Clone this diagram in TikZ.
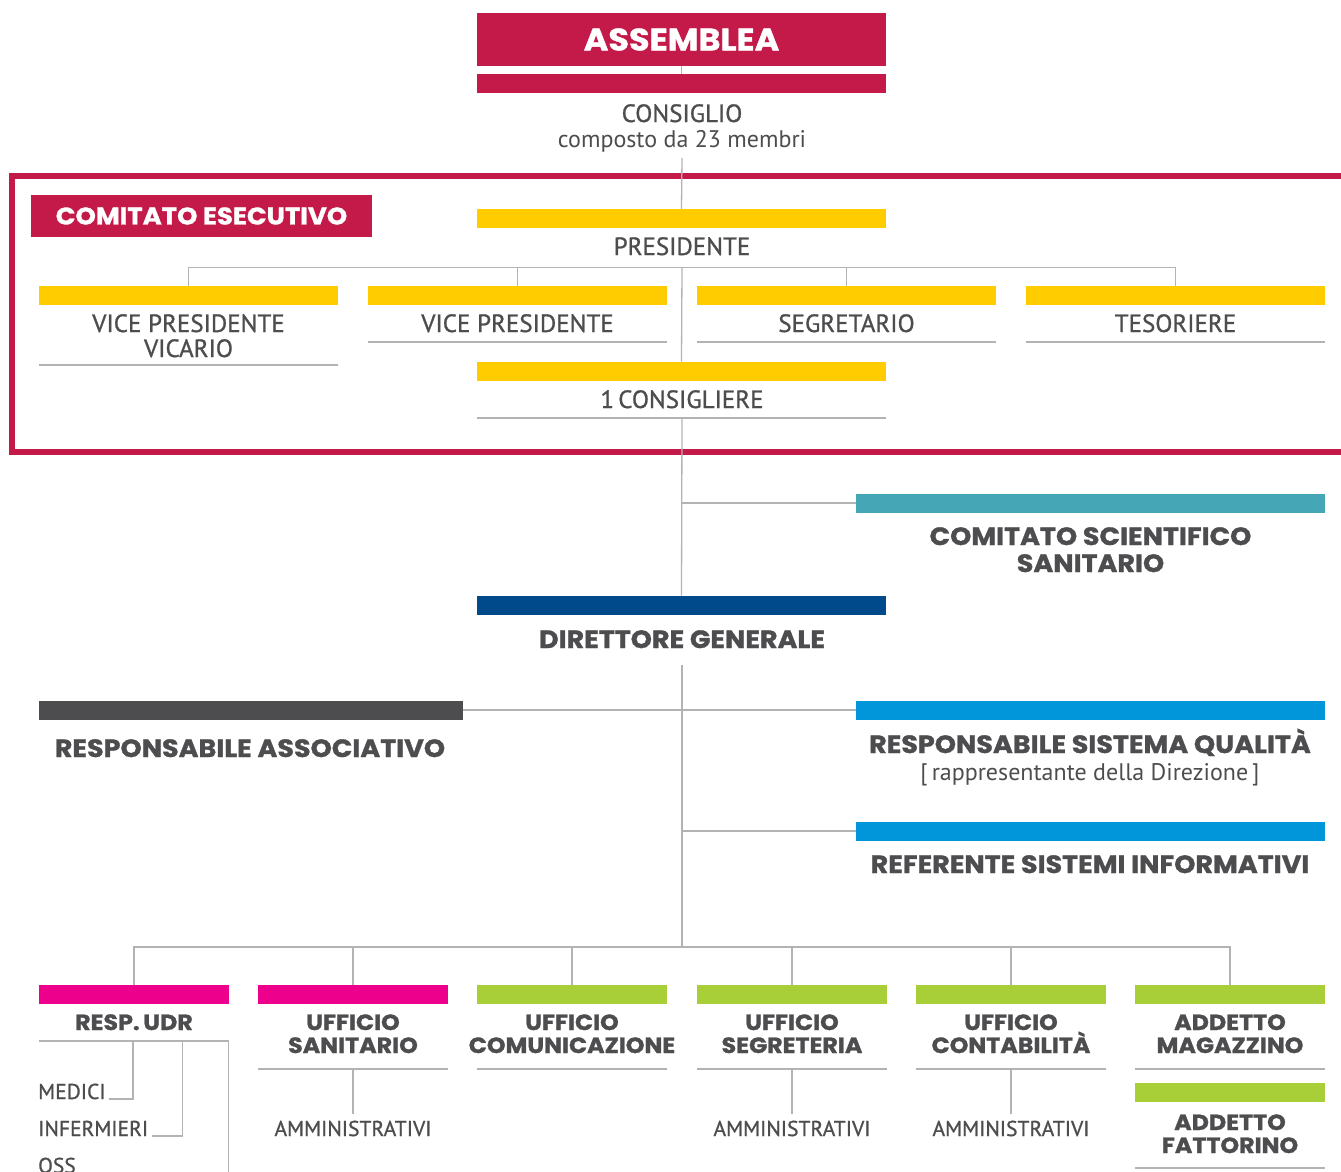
\documentclass[tikz,border=0pt]{standalone}
\usepackage{fontspec}
\setmainfont{PT Sans}
\newfontfamily\medfont{PT Sans}[FakeBold=1.0]
\newfontfamily\headfont{Poppins}[FakeStretch=1.08, FakeBold=1.2]
\definecolor{crim}{HTML}{C41A4A}
\definecolor{yel}{HTML}{FFCC00}
\definecolor{teal}{HTML}{45A7B5}
\definecolor{navy}{HTML}{004A8B}
\definecolor{dgray}{HTML}{4D4D4F}
\definecolor{sky}{HTML}{0096D9}
\definecolor{mag}{HTML}{EC008C}
\definecolor{grn}{HTML}{A8CF38}
\definecolor{txt}{HTML}{4D4D4F}
\definecolor{lin}{HTML}{B3B3B3}
\tikzset{
  bar/.style={inner sep=0, outer sep=0, minimum height=19, draw=none},
  lbl/.style={text=txt, font=\medfont\fontsize{25}{25}\selectfont, align=center, inner sep=0, anchor=base},
  small/.style={text=txt, font=\medfont\fontsize{21.5}{22}\selectfont, inner sep=0, anchor=base},
  hd/.style={text=txt, font=\headfont\bfseries\fontsize{25}{27}\selectfont, align=center, inner sep=0, anchor=base},
  hdb/.style={text=txt, font=\headfont\bfseries\fontsize{22}{23}\selectfont, align=center, inner sep=0, anchor=base},
  conn/.style={draw=lin, line width=1.3},
}
\begin{document}
\begin{tikzpicture}[x=1pt,y=-1pt]
\useasboundingbox (0,0) rectangle (1341,1171);
% ---------- top ----------
\node[bar, fill=crim, minimum width=409, minimum height=53, text=white,
      font=\headfont\bfseries\fontsize{31}{31}\selectfont] (assem) at (681.5,39.5) {ASSEMBLEA};
\node[bar, fill=crim, minimum width=409] (consbar) at (681.5,83.5) {};
\node[lbl] (cons) at (682,147) {CONSIGLIO\\{\normalfont\fontsize{24}{26}\selectfont composto da 23 membri}};
\coordinate (consend) at (682,158);
\draw[conn] (assem.south) -- (consbar.north);
% ---------- comitato esecutivo frame ----------
\draw[crim, line width=6] (1400,175.5) -- (12,175.5) -- (12,452) -- (1400,452);
\node[bar, fill=crim, minimum width=341, minimum height=42, text=white,
      font=\headfont\bfseries\fontsize{24}{24}\selectfont] (cetitle) at (201.5,216) {COMITATO ESECUTIVO};
\node[bar, fill=yel, minimum width=409] (presbar) at (681.5,218.5) {};
\node[lbl] (pres) at (682,255) {PRESIDENTE};
\draw[conn] (consend) -- (presbar.north);
\coordinate (hj) at (682,267.3);
\node[bar, fill=yel, minimum width=299] (vpvbar) at (188.5,295.5) {};
\node[bar, fill=yel, minimum width=299] (vpbar) at (517.5,295.5) {};
\node[bar, fill=yel, minimum width=299] (segbar) at (846.5,295.5) {};
\node[bar, fill=yel, minimum width=299] (tesbar) at (1175.5,295.5) {};
\draw[conn] (vpvbar.north) |- (hj) -| (tesbar.north);
\draw[conn] (vpbar.north) -- (vpbar.north |- hj);
\draw[conn] (segbar.north) -- (segbar.north |- hj);
\node[lbl] (vpv) at (188.5,357) {VICE PRESIDENTE\\VICARIO};
\node[lbl] (vp) at (517.5,332) {VICE PRESIDENTE};
\node[lbl] (seg) at (846.5,332) {SEGRETARIO};
\node[lbl] (tes) at (1175.5,332) {TESORIERE};
\draw[conn] (39,365) -- (338,365);
\draw[conn] (368,342) -- (667,342);
\draw[conn] (697,342) -- (996,342);
\draw[conn] (1026,342) -- (1325,342);
\node[bar, fill=yel, minimum width=409] (c1bar) at (681.5,371) {};
\draw[conn] (hj) -- (c1bar.north);
\node[lbl] (c1) at (682,408) {1\,CONSIGLIERE};
\draw[conn] (477,418) -- (886,418);
\coordinate (c1end) at (682,418);
% ---------- middle ----------
\node[bar, fill=teal, minimum width=469] (csbar) at (1090.5,503) {};
\node[hd] (cs) at (1090.5,572) {COMITATO SCIENTIFICO\\SANITARIO};
\node[bar, fill=navy, minimum width=409] (dirbar) at (681.5,605) {};
\draw[conn] (c1end) -- (dirbar.north);
\draw[conn] (dirbar.north |- csbar.west) -- (csbar.west);
\node[hd] (dir) at (682,648) {DIRETTORE GENERALE};
\coordinate (dirend) at (682,665);
\coordinate (bj) at (682,947);
\draw[conn] (dirend) -- (bj);
\node[bar, fill=dgray, minimum width=424] (asbar) at (251,710) {};
\node[bar, fill=sky, minimum width=469] (qbar) at (1090.5,710) {};
\draw[conn] (asbar.east) -- (qbar.west);
\node[hd] (as) at (250,757) {RESPONSABILE ASSOCIATIVO};
\node[hd] (q) at (1090,753) {RESPONSABILE SISTEMA QUALITÀ};
\node[lbl, font=\fontsize{24}{24}\selectfont] (qr) at (1090,780) {[\,rappresentante della Direzione\,]};
\node[bar, fill=sky, minimum width=469] (rbar) at (1090.5,831) {};
\draw[conn] (rbar.west -| bj) -- (rbar.west);
\node[hd] (r) at (1090,873) {REFERENTE SISTEMI INFORMATIVI};
% ---------- bottom ----------
\node[bar, fill=mag, minimum width=190] (b1) at (134,994) {};
\node[bar, fill=mag, minimum width=190] (b2) at (353,994) {};
\node[bar, fill=grn, minimum width=190] (b3) at (572,994) {};
\node[bar, fill=grn, minimum width=190] (b4) at (792,994) {};
\node[bar, fill=grn, minimum width=190] (b5) at (1011,994) {};
\node[bar, fill=grn, minimum width=190] (b6) at (1230,994) {};
\draw[conn] (b1.north) |- (bj) -| (b6.north);
\foreach \b in {b2,b3,b4,b5} \draw[conn] (\b.north) -- (\b.north |- bj);
\node[hdb] (t1) at (134,1030) {RESP.\,UDR};
\node[hdb] (t2) at (353,1053) {UFFICIO\\SANITARIO};
\node[hdb] (t3) at (572,1053) {UFFICIO\\COMUNICAZIONE};
\node[hdb] (t4) at (792,1053) {UFFICIO\\SEGRETERIA};
\node[hdb] (t5) at (1011,1053) {UFFICIO\\CONTABILITÀ};
\node[hdb] (t6) at (1230,1053) {ADDETTO\\MAGAZZINO};
\draw[conn] (39,1041) -- (229,1041);
\foreach \a/\b in {258/448,477/667,697/887,916/1106,1135/1325} \draw[conn] (\a,1069) -- (\b,1069);
% UDR sub list
\node[small, anchor=base west] (med) at (38,1099) {MEDICI};
\node[small, anchor=base west] (inf) at (38,1136) {INFERMIERI};
\node[small, anchor=base west] (oss) at (38,1173) {OSS};
\draw[conn] (133,1041) |- ([xshift=3pt]med.base east);
\draw[conn] (182.5,1041) |- ([xshift=4pt]inf.base east);
\draw[conn] (228.3,1041) -- (228.3,1185);
% amministrativi
\node[small] (a2) at (353,1136) {AMMINISTRATIVI};
\node[small] (a4) at (792,1136) {AMMINISTRATIVI};
\node[small] (a5) at (1011,1136) {AMMINISTRATIVI};
\draw[conn] (353,1069) -- (353,1114);
\draw[conn] (792,1069) -- (792,1114);
\draw[conn] (1011,1069) -- (1011,1114);
% fattorino
\node[bar, fill=grn, minimum width=190] (b7) at (1230,1092) {};
\node[hdb] (t7) at (1230,1153) {ADDETTO\\FATTORINO};
\draw[conn] (1135,1168) -- (1325,1168);
\end{tikzpicture}
\end{document}
